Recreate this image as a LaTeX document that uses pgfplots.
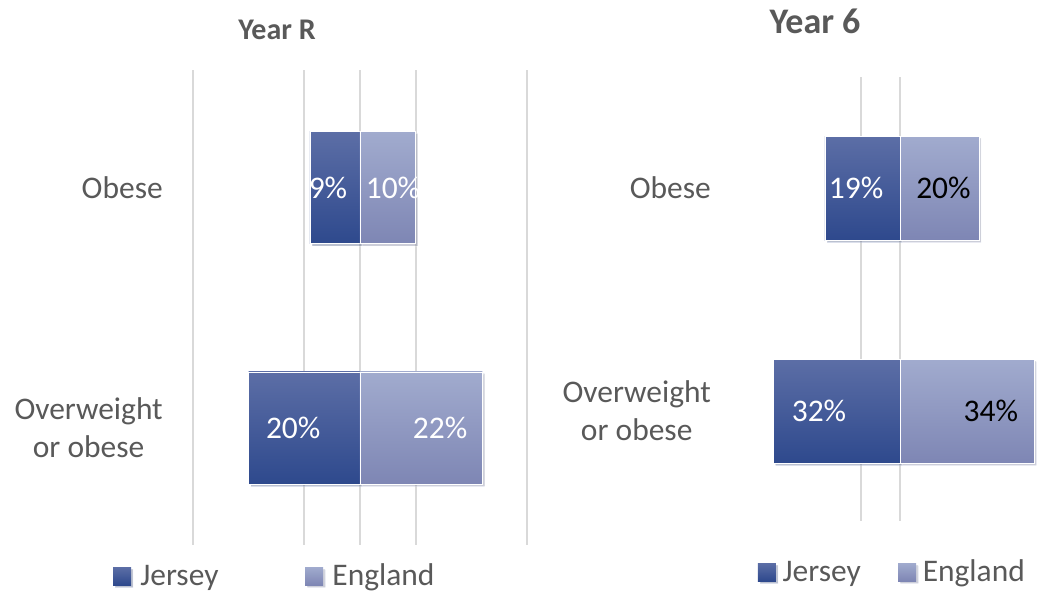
\documentclass[border=0pt]{standalone}
\usepackage{pgfplots}
\pgfplotsset{compat=1.18}
\usepackage{fontspec}
\setmainfont{Carlito}
\usetikzlibrary{shadows}
\definecolor{jtop}{RGB}{92,110,166}
\definecolor{jbot}{RGB}{46,73,141}
\definecolor{etop}{RGB}{161,171,206}
\definecolor{ebot}{RGB}{126,134,180}
\definecolor{txt}{RGB}{89,89,89}
\definecolor{grd}{RGB}{217,217,217}
\pgfplotsset{
  jersey/.style={xbar, bar shift=0pt, draw=white, line width=0.5pt, top color=jtop, bottom color=jbot,
    drop shadow={opacity=0.22, shadow xshift=1.6pt, shadow yshift=-1.6pt}},
  england/.style={xbar, bar shift=0pt, draw=white, line width=0.5pt, top color=etop, bottom color=ebot,
    drop shadow={opacity=0.22, shadow xshift=1.6pt, shadow yshift=-1.6pt}},
  panel/.style={
    scale only axis, anchor=south west,
    axis line style={draw=none}, tick style={draw=none},
    xmajorgrids, major grid style={grd, line width=1.5pt},
    xticklabels={}, ytick={0,1},
    yticklabels={Overweight\\or obese, Obese},
    yticklabel style={font=\fontsize{23.6}{28.5}\selectfont, text=txt, align=center, anchor=east, inner sep=0pt},
    legend image code/.code={\path[#1, draw=none] (0pt,-6.75pt) rectangle (13.5pt,6.75pt);},
    legend style={draw=none, fill=none, inner sep=0pt, outer sep=0pt, legend columns=2,
      nodes={inner sep=0pt, text=txt, font=\fontsize{23.6}{28}\selectfont}},
  },
  lab/.style={draw=none, mark=none, forget plot, nodes near coords={\pgfplotspointmeta\%},
    point meta=explicit symbolic,
    every node near coord/.style={anchor=center, inner sep=0pt, font=\fontsize{23.6}{28}\selectfont, text=#1}},
}
\begin{document}
\begin{tikzpicture}
\useasboundingbox (0pt,0pt) rectangle (784.5pt,444pt);
% ---------- Year R ----------
\begin{axis}[panel,
  at={(144.75pt,35.25pt)}, width=250.5pt, height=356.25pt,
  xmin=-30, xmax=30, ymin=-0.4875, ymax=1.49,
  xtick={-30,-10,0,10,30}, bar width=0.4667,
  yticklabel style={xshift=-22.5pt},
  title={Year R},
  title style={at={(rel axis cs:0.2515,1)}, anchor=center, yshift=24pt, text=txt,
    font=\fontsize{22.5}{27}\selectfont\bfseries},
  legend style={at={(rel axis cs:-0.2395,-0.0653)}, anchor=west,
    /tikz/every odd column/.style={column sep=7pt},
    /tikz/every even column/.style={column sep=65pt}},
]
\addplot[jersey] coordinates {(-9,1)};
\addplot[england] coordinates {(10,1)};
\addplot[jersey, forget plot] coordinates {(-20,0)};
\addplot[england, forget plot] coordinates {(22,0)};
\legend{Jersey, England}
\addplot[lab=white] table[x=x, y=y, meta=v] {
x y v
-5.75 1 9
5.93 1 10
-12.0 0 20
14.4 0 22
};
\end{axis}
% ---------- Year 6 ----------
\begin{axis}[panel,
  at={(571.3125pt,53.25pt)}, width=207.375pt, height=333pt,
  xmin=-35, xmax=35, ymin=-0.493, ymax=1.498,
  xtick={-10,0}, bar width=0.466,
  yticklabel style={xshift=-38pt},
  title={Year 6},
  title style={at={(rel axis cs:0.1926,1)}, anchor=center, yshift=36pt, text=txt,
    font=\fontsize{27}{32}\selectfont\bfseries},
  legend style={at={(rel axis cs:-0.0136,-0.1149)}, anchor=west,
    /tikz/every odd column/.style={column sep=5pt},
    /tikz/every even column/.style={column sep=28pt}},
]
\addplot[jersey] coordinates {(-19,1)};
\addplot[england] coordinates {(20,1)};
\addplot[jersey, forget plot] coordinates {(-32,0)};
\addplot[england, forget plot] coordinates {(34,0)};
\legend{Jersey, England}
\addplot[lab=white] table[x=x, y=y, meta=v] {
x y v
-11.1 1 19
-20.5 0 32
};
\addplot[lab=black] table[x=x, y=y, meta=v] {
x y v
11.0 1 20
23.0 0 34
};
\end{axis}
\end{tikzpicture}
\end{document}
